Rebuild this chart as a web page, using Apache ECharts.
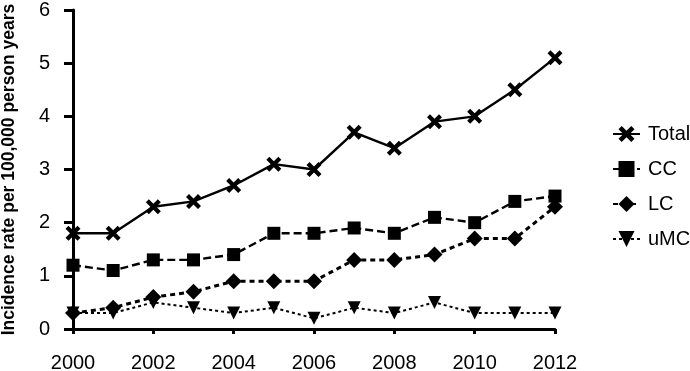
<!DOCTYPE html>
<html><head><meta charset="utf-8">
<script src="https://cdn.jsdelivr.net/npm/echarts@6/dist/echarts.min.js"></script>
<style>html,body{margin:0;padding:0;background:#fff}#c{width:690px;height:371px}</style>
</head><body><div id="c"></div>
<script>
const years = [2000,2001,2002,2003,2004,2005,2006,2007,2008,2009,2010,2011,2012];
const total = [1.8,1.8,2.3,2.4,2.7,3.1,3.0,3.7,3.4,3.9,4.0,4.5,5.1];
const cc    = [1.2,1.1,1.3,1.3,1.4,1.8,1.8,1.9,1.8,2.1,2.0,2.4,2.5];
const lc    = [0.3,0.4,0.6,0.7,0.9,0.9,0.9,1.3,1.3,1.4,1.7,1.7,2.3];
const umc   = [0.3,0.3,0.5,0.4,0.3,0.4,0.2,0.4,0.3,0.5,0.3,0.3,0.3];
const seriesNames = ['Total','CC','LC','uMC'];
const yLabel = 'Incidence rate per 100,000 person years';

const xPath = 'path://M0,2 L2,0 L5,3 L8,0 L10,2 L7,5 L10,8 L8,10 L5,7 L2,10 L0,8 L3,5 Z';
function pairs(v){return years.map((y,i)=>[y,v[i]]);}
const font = 'Liberation Sans, Arial, sans-serif';
const chart = echarts.init(document.getElementById('c'));
chart.setOption({
  animation:false,
  textStyle:{fontFamily:font,color:'#000'},
  grid:{left:73,right:135,top:10,bottom:42,containLabel:false,outerBoundsMode:'none'},
  legend:{
    orient:'vertical',left:607,top:119,itemGap:15,itemWidth:27,itemHeight:20,
    textStyle:{fontSize:20,color:'#000',fontFamily:font,padding:[0,0,0,3]},
    data:seriesNames
  },
  xAxis:{type:'value',min:2000,max:2012,interval:2,
    axisLine:{lineStyle:{color:'#000',width:3}},
    axisTick:{show:true,length:5,lineStyle:{color:'#000',width:3}},
    axisLabel:{fontSize:20,color:'#000',margin:24,formatter:v=>String(v)},
    splitLine:{show:false}},
  yAxis:{type:'value',min:0,max:6,interval:1,
    name:yLabel,nameLocation:'middle',nameGap:55,
    nameTextStyle:{fontSize:17.5,fontWeight:'bold',color:'#000'},
    axisLine:{show:true,lineStyle:{color:'#000',width:3}},
    axisTick:{show:true,length:9,lineStyle:{color:'#000',width:3}},
    axisLabel:{fontSize:20,color:'#000',margin:23},
    splitLine:{show:false}},
  series:[
    {name:'Total',type:'line',data:pairs(total),symbol:xPath,symbolSize:15,
     lineStyle:{color:'#000',width:2.4,type:'solid'},itemStyle:{color:'#000'}},
    {name:'CC',type:'line',data:pairs(cc),symbol:'rect',symbolSize:13,
     lineStyle:{color:'#000',width:2.4,type:[8,4]},itemStyle:{color:'#000'}},
    {name:'LC',type:'line',data:pairs(lc),symbol:'diamond',symbolSize:16,
     lineStyle:{color:'#000',width:3,type:[5,4]},itemStyle:{color:'#000'}},
    {name:'uMC',type:'line',data:pairs(umc),symbol:'triangle',symbolRotate:180,symbolSize:13,
     lineStyle:{color:'#000',width:2,type:[3,3]},itemStyle:{color:'#000'}}
  ]
});
</script></body></html>
